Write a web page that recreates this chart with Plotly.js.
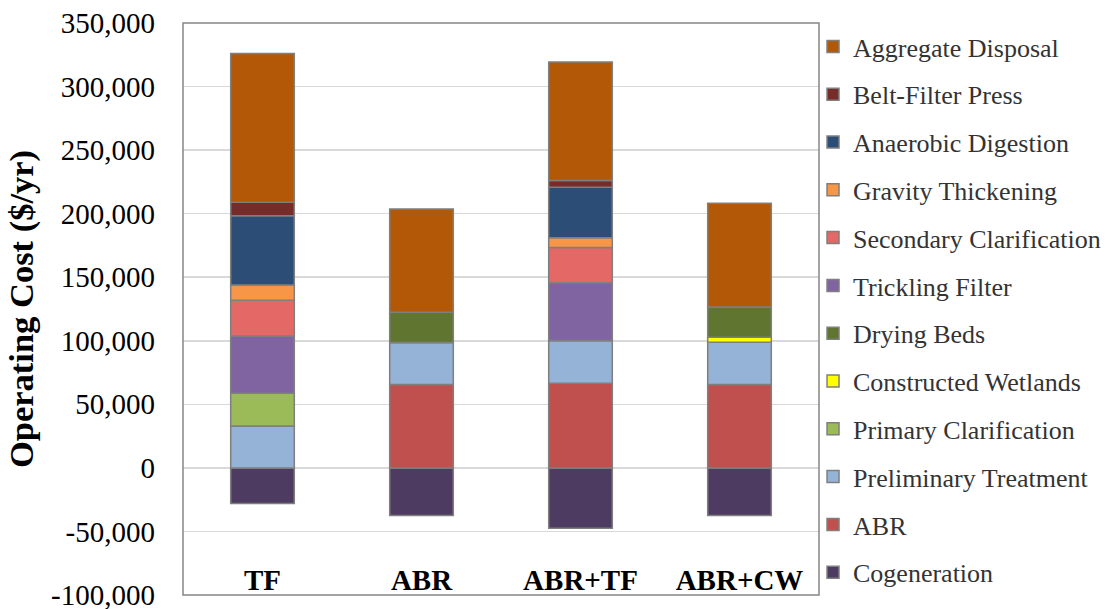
<!DOCTYPE html>
<html>
<head>
<meta charset="utf-8">
<script src="https://cdn.plot.ly/plotly-3.0.1.min.js"></script>
<style>html,body{margin:0;padding:0;background:#fff;overflow:hidden;}#chart{width:1109px;height:609px;}</style>
</head>
<body>
<div id="chart"></div>
<script>
const categories = ["TF", "ABR", "ABR+TF", "ABR+CW"];

const cogeneration = [-28000, -37500, -47500, -37500];
const abr = [0, 65600, 66600, 65600];
const preliminaryTreatment = [33000, 33000, 33600, 33300];
const primaryClarification = [25700, 0, 0, 0];
const constructedWetlands = [0, 0, 0, 3900];
const dryingBeds = [0, 23900, 0, 23700];
const tricklingFilter = [45100, 0, 45400, 0];
const secondaryClarification = [28100, 0, 27800, 0];
const gravityThickening = [12000, 0, 7600, 0];
const anaerobicDigestion = [54400, 0, 39800, 0];
const beltFilterPress = [10700, 0, 5300, 0];
const aggregateDisposal = [117000, 81100, 93200, 81600];

const yTickVals = [-100000, -50000, 0, 50000, 100000, 150000, 200000, 250000, 300000, 350000];
const yTickLabels = ["-100,000", "-50,000", "0", "50,000", "100,000", "150,000", "200,000", "250,000", "300,000", "350,000"];

const seriesNames = ["Cogeneration", "ABR", "Preliminary Treatment", "Primary Clarification",
  "Constructed Wetlands", "Drying Beds", "Trickling Filter", "Secondary Clarification",
  "Gravity Thickening", "Anaerobic Digestion", "Belt-Filter Press", "Aggregate Disposal"];
const seriesValues = [cogeneration, abr, preliminaryTreatment, primaryClarification,
  constructedWetlands, dryingBeds, tricklingFilter, secondaryClarification,
  gravityThickening, anaerobicDigestion, beltFilterPress, aggregateDisposal];
const seriesColors = ["#4e3b62", "#c0504d", "#95b3d7", "#9bbb59",
  "#ffff00", "#5f7530", "#8064a2", "#e36866",
  "#f79646", "#2c4d75", "#772c2a", "#b35806"];

const traces = seriesNames.map((n, i) => ({
  type: "bar",
  name: n,
  x: categories,
  y: seriesValues[i],
  legendgroup: n,
  legendrank: seriesNames.length - i,
  marker: {color: seriesColors[i], line: {color: "#7f7f7f", width: 1.5}},
  hoverinfo: "x+y+name"
}));

const layout = {
  width: 1109,
  height: 609,
  barmode: "relative",
  bargap: 0.6,
  paper_bgcolor: "#ffffff",
  plot_bgcolor: "#ffffff",
  margin: {l: 183, r: 290, t: 23, b: 14, autoexpand: false},
  font: {family: "'Liberation Serif', 'Times New Roman', serif", color: "#000"},
  xaxis: {
    type: "category",
    anchor: "free",
    position: 0.061,
    ticks: "",
    showgrid: false,
    zeroline: false,
    showline: false,
    automargin: false,
    tickfont: {size: 29, family: "'Liberation Serif', serif", color: "#000", weight: "bold"}
  },
  yaxis: {
    range: [-100000, 350000],
    tickmode: "array",
    tickvals: yTickVals,
    ticktext: yTickLabels,
    ticklabeloverflow: "allow",
    showgrid: true,
    gridcolor: "#d9d9d9",
    gridwidth: 1.5,
    zeroline: false,
    showline: false,
    automargin: false,
    ticks: "",
    ticklabelstandoff: 27,
    tickfont: {size: 29, color: "#000"},
    title: {text: "<b>Operating Cost ($/yr)</b>", font: {size: 34.5, color: "#000"}, standoff: 7}
  },
  shapes: [{
    type: "rect", xref: "paper", yref: "paper", x0: 0, x1: 1, y0: 0, y1: 1,
    line: {color: "#878787", width: 1.5}, fillcolor: "rgba(0,0,0,0)", layer: "above"
  }],
  legend: {
    x: 0.9906,
    xanchor: "left",
    y: 1.0,
    yanchor: "top",
    traceorder: "grouped",
    tracegroupgap: 11,
    font: {size: 26, color: "#333"},
    itemwidth: 30,
    bgcolor: "rgba(0,0,0,0)"
  },
  showlegend: true
};

Plotly.newPlot("chart", traces, layout, {displayModeBar: false, staticPlot: true});
</script>
</body>
</html>
